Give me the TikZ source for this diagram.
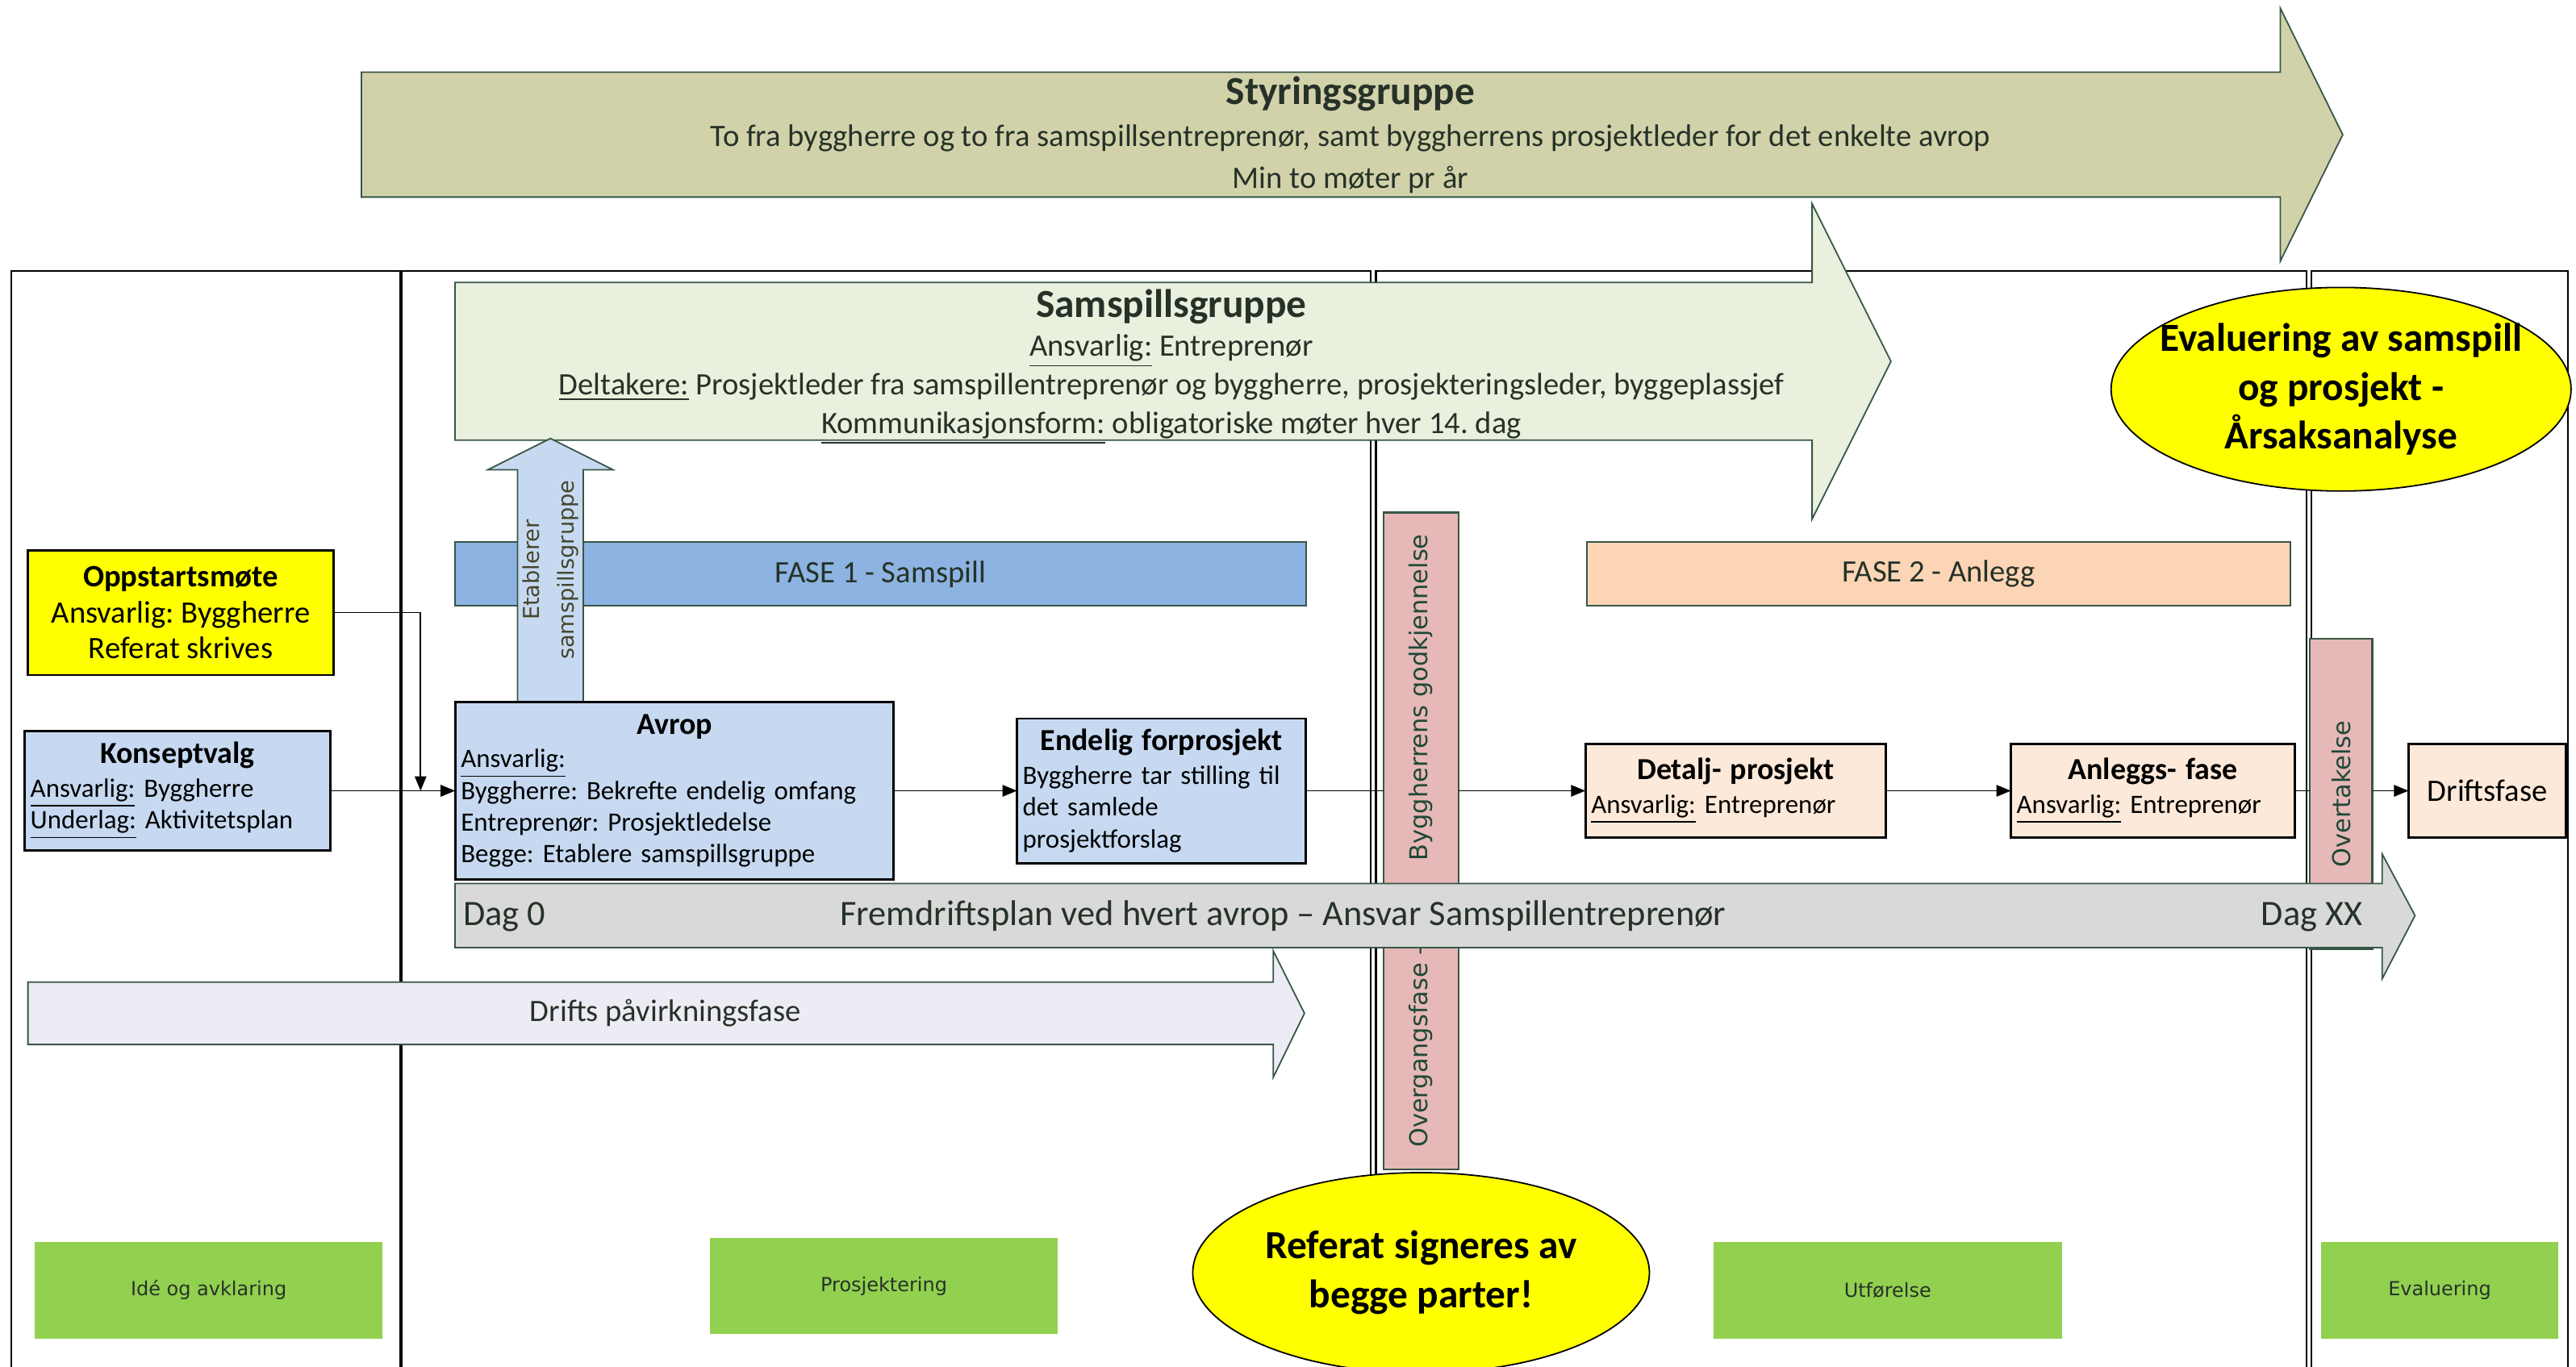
\documentclass[tikz,border=0pt]{standalone}
\usepackage{fontspec}
\setmainfont{Carlito}
\newfontfamily\verdfont{DejaVu Sans}
\usetikzlibrary{shapes.geometric,arrows.meta}
\frenchspacing

\definecolor{styrfill}{RGB}{210,210,170}
\definecolor{samfill}{RGB}{234,240,222}
\definecolor{boxblue}{RGB}{198,217,241}
\definecolor{faseblue}{RGB}{141,179,226}
\definecolor{fasepeach}{RGB}{251,213,181}
\definecolor{boxpeach}{RGB}{253,233,217}
\definecolor{barrose}{RGB}{230,184,183}
\definecolor{planfill}{RGB}{217,217,217}
\definecolor{driftfill}{RGB}{237,235,243}
\definecolor{stagegreen}{RGB}{146,208,80}
\definecolor{bubbleyel}{RGB}{255,255,0}
\definecolor{edgegreen}{RGB}{55,86,70}
\definecolor{ink}{RGB}{38,50,40}
\definecolor{barink}{RGB}{30,72,56}
\definecolor{etabink}{RGB}{70,70,45}

\newcommand\boxtitle[1]{{\centering\fontsize{10.6}{13}\selectfont\bfseries #1\par}\vspace{0.6pt}}

\begin{document}
\begin{tikzpicture}[x=0.02cm,y=-0.02cm,
  every node/.style={inner sep=0,outer sep=0},
  frame/.style={draw=black,line width=0.6pt},
  blockarrow/.style={draw=edgegreen,line width=0.5pt},
  box/.style={draw=black,line width=0.8pt,fill=boxblue,inner xsep=0.07cm,align=left,font=\fontsize{9.2}{11}\selectfont},
  fase/.style={draw=edgegreen,line width=0.6pt,text=ink,font=\fontsize{10.8}{12}\selectfont},
  bar/.style={draw=edgegreen,line width=0.6pt,fill=barrose,text=barink,font=\verdfont\fontsize{8.5}{10}\selectfont},
  stage/.style={fill=stagegreen,text=ink,font=\verdfont\fontsize{6.7}{8}\selectfont},
  bubble/.style={ellipse,draw=black,line width=0.5pt,fill=bubbleyel},
  bubtext/.style={align=center,font=\bfseries\fontsize{13.8}{17}\selectfont},
  plantext/.style={text=ink,font=\fontsize{12.4}{14}\selectfont,text height=8.5pt,text depth=2.5pt},
  conn/.style={line width=0.5pt,-{Triangle[length=5pt,width=4pt]}}]

\useasboundingbox (0,0) rectangle (1568,832);

\draw[frame] (7,165) rectangle (244,850);
\draw[frame] (244,165) rectangle (834.5,850);
\draw[frame] (837.5,165) rectangle (1404,850);
\draw[frame] (1407,165) rectangle (1563,850);
\draw[line width=1.3pt] (244,165) -- (244,850);

% Styringsgruppe
\draw[blockarrow,fill=styrfill] (220,44) -- (1388,44) -- (1388,5) -- (1426,82) -- (1388,159) -- (1388,120) -- (220,120) -- cycle;
\node[text=ink,align=center,font=\fontsize{10.8}{14.5}\selectfont] (styrtxt) at (822,82)
  {{\fontsize{13.8}{15}\selectfont\bfseries Styringsgruppe}\\
   To fra byggherre og to fra samspillsentreprenør, samt byggherrens prosjektleder for det enkelte avrop\\
   Min to møter pr år};

% Samspillsgruppe
\draw[blockarrow,fill=samfill] (277,172) -- (1103,172) -- (1103,124) -- (1151,220) -- (1103,316) -- (1103,268) -- (277,268) -- cycle;
\node[text=ink,align=center,font=\fontsize{10.8}{13.4}\selectfont] (samtxt) at (713,223.5)
  {{\fontsize{13.8}{15}\selectfont\bfseries Samspillsgruppe}\\
   \underline{Ansvarlig:} Entreprenør\\
   \underline{Deltakere:} Prosjektleder fra samspillentreprenør og byggherre, prosjekteringsleder, byggeplassjef\\
   \underline{Kommunikasjonsform:} obligatoriske møter hver 14. dag};

\node[bubble,minimum width=5.6cm,minimum height=2.48cm] (evalbub) at (1425,237) {};
\node[bubtext] (evaltxt) at (evalbub.center) {Evaluering av samspill\\og prosjekt -\\Årsaksanalyse};

\node[fase,fill=faseblue,minimum width=10.36cm,minimum height=0.78cm] (fase1) at (536,349.5) {FASE 1 - Samspill};
\node[fase,fill=fasepeach,minimum width=8.56cm,minimum height=0.78cm] (fase2) at (1180,349.5) {FASE 2 - Anlegg};

% Etablerer samspillsgruppe
\draw[blockarrow,fill=boxblue] (315,428) -- (315,286) -- (297,286) -- (335,267) -- (373,286) -- (355,286) -- (355,428) -- cycle;
\node[rotate=90,align=center,text=etabink,font=\verdfont\fontsize{7.6}{12}\selectfont] (etabl) at (335,347) {Etablerer\\samspillsgruppe};

\node[box,fill=bubbleyel,align=center,font=\fontsize{10.8}{12.5}\selectfont,minimum width=3.72cm,minimum height=1.52cm] (opp) at (110,373)
  {\textbf{Oppstartsmøte}\\Ansvarlig: Byggherre\\Referat skrives};
\node[box,minimum width=3.72cm,minimum height=1.46cm,text width=3.58cm] (kons) at (108,481.5)
  {\boxtitle{Konseptvalg}\underline{Ansvarlig:} Byggherre\\\underline{Underlag:} Aktivitetsplan};
\node[box,minimum width=5.34cm,minimum height=2.16cm,text width=5.2cm] (avrop) at (410.5,481.5)
  {\boxtitle{Avrop}\underline{Ansvarlig:}\\Byggherre: Bekrefte endelig omfang\\Entreprenør: Prosjektledelse\\Begge: Etablere samspillsgruppe};
\node[box,minimum width=3.52cm,minimum height=1.76cm,text width=3.38cm] (endelig) at (707,481.5)
  {\boxtitle{Endelig forprosjekt}Byggherre tar stilling til\\det samlede\\prosjektforslag};
\node[box,fill=boxpeach,minimum width=3.66cm,minimum height=1.14cm,text width=3.52cm] (detalj) at (1056.5,481.5)
  {\boxtitle{Detalj- prosjekt}\underline{Ansvarlig:} Entreprenør};
\node[box,fill=boxpeach,minimum width=3.46cm,minimum height=1.14cm,text width=3.32cm] (anlegg) at (1310.5,481.5)
  {\boxtitle{Anleggs- fase}\underline{Ansvarlig:} Entreprenør};
\node[box,fill=boxpeach,align=center,font=\fontsize{10.8}{12}\selectfont,minimum width=1.92cm,minimum height=1.14cm] (drift) at (1514,481.5) {Driftsfase};

\node[bar,rotate=90,minimum width=8cm,minimum height=0.92cm] (godkj) at (865,512) {Overgangsfase –\hspace{1cm}Byggherrens godkjennelse};
\node[bar,rotate=90,minimum width=3.78cm,minimum height=0.76cm] (overtak) at (1425,483.5) {Overtakelse};

% Fremdriftsplan
\draw[blockarrow,fill=planfill] (277,538) -- (1450,538) -- (1450,520) -- (1470,557.5) -- (1450,596) -- (1450,577) -- (277,577) -- cycle;
\node[plantext,anchor=west] (dag0) at (282,558) {Dag 0};
\node[plantext] (plantxt) at (781,558) {Fremdriftsplan ved hvert avrop – Ansvar Samspillentreprenør};
\node[plantext,anchor=east] (dagxx) at (1438,558) {Dag XX};

% Drifts paavirkningsfase
\draw[blockarrow,fill=driftfill] (17,598) -- (775,598) -- (775,579) -- (794,617) -- (775,656) -- (775,636) -- (17,636) -- cycle;
\node[text=ink,font=\fontsize{10.8}{12}\selectfont] (drifttxt) at (405,617) {Drifts påvirkningsfase};

\node[stage,minimum width=4.24cm,minimum height=1.18cm] (ide) at (127,785.5) {Idé og avklaring};
\node[stage,minimum width=4.24cm,minimum height=1.16cm] (prosj) at (538,783) {Prosjektering};
\node[stage,minimum width=4.24cm,minimum height=1.18cm] (utf) at (1149,785.5) {Utførelse};
\node[stage,minimum width=2.88cm,minimum height=1.18cm] (evalst) at (1485,785.5) {Evaluering};

\node[bubble,minimum width=5.56cm,minimum height=2.44cm] (refbub) at (865,775) {};
\node[bubtext] (reftxt) at (refbub.center) {Referat signeres av\\begge parter!};

\coordinate (join) at (256,481.5);
\draw[conn] (opp.east) -| (join);
\draw[conn] (kons) -- (avrop);
\draw[conn] (avrop) -- (endelig);
\draw[line width=0.5pt] (endelig) -- (endelig -| godkj.north);
\draw[conn] (endelig -| godkj.south) -- (detalj);
\draw[conn] (detalj) -- (anlegg);
\draw[line width=0.5pt] (anlegg) -- (anlegg -| overtak.north);
\draw[conn] (anlegg -| overtak.south) -- (drift);
\end{tikzpicture}
\end{document}
